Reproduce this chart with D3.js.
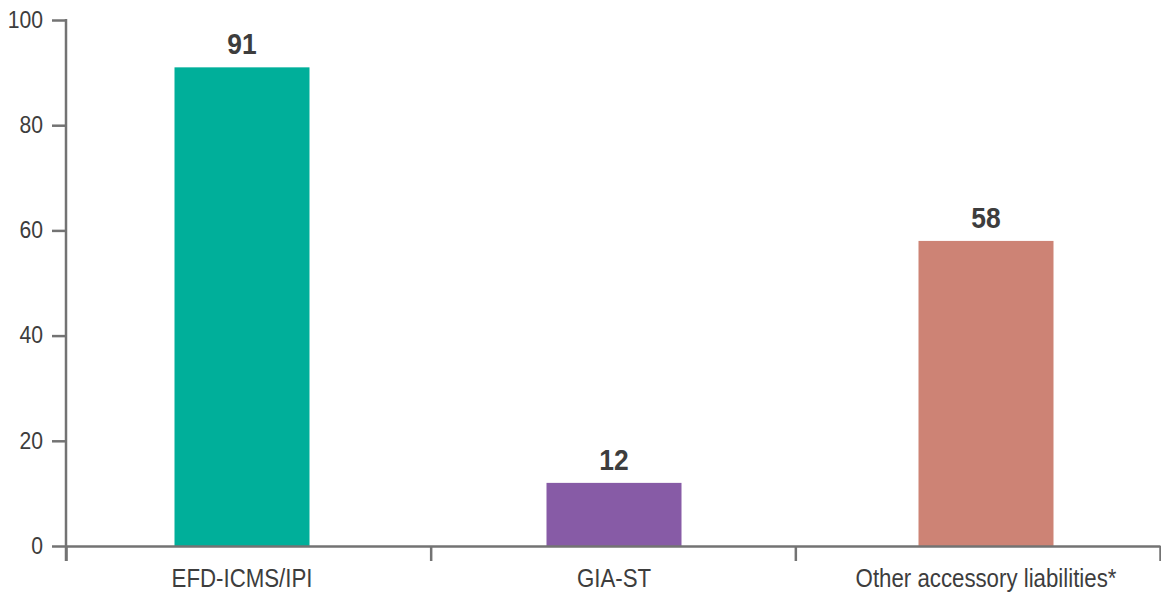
<!DOCTYPE html>
<html>
<head>
<meta charset="utf-8">
<script src="https://cdn.jsdelivr.net/npm/d3@7"></script>
<style>
  html, body { margin: 0; padding: 0; background: #fff; }
  svg { display: block; }
  text { font-family: "Liberation Sans", Arial, sans-serif; }
</style>
</head>
<body>
<script>
// Chart data
const categories = ["EFD-ICMS/IPI", "GIA-ST", "Other accessory liabilities*"];
const values = [91, 12, 58];
const barColors = ["#00AF9A", "#875BA6", "#CD8375"];
const yTicks = [0, 20, 40, 60, 80, 100];

const width = 1161, height = 592;
const margin = { top: 20, right: 1, bottom: 46, left: 66 };
const innerW = width - margin.left - margin.right;
const innerH = height - margin.top - margin.bottom;

// Horizontal squeeze giving the condensed look of the labels
const squeeze = 0.88;

const svg = d3.select("body").append("svg")
  .attr("width", width)
  .attr("height", height);

const g = svg.append("g").attr("transform", `translate(${margin.left},${margin.top})`);

const y = d3.scaleLinear().domain([0, 100]).range([innerH, 0]);

// Band boundaries carry the x-axis tick marks
const xEdge = d3.scalePoint().domain(d3.range(categories.length + 1)).range([0, innerW]);
// Bar and label centres
const xCenter = d3.scalePoint().domain(categories).range([176, 920]).padding(0);
const barW = 135;

const axisColor = "#737373";
const textColor = "#3d3d3d";

// Bars
g.selectAll("rect.bar")
  .data(categories)
  .join("rect")
  .attr("class", "bar")
  .attr("x", d => xCenter(d) - barW / 2)
  .attr("width", barW)
  .attr("y", (d, i) => y(values[i]))
  .attr("height", (d, i) => y(0) - y(values[i]))
  .attr("fill", (d, i) => barColors[i]);

// Value labels
g.selectAll("text.val")
  .data(categories)
  .join("text")
  .attr("class", "val")
  .attr("transform", (d, i) => `translate(${xCenter(d)},${y(values[i]) - 13}) scale(${squeeze},1)`)
  .attr("text-anchor", "middle")
  .attr("font-weight", "bold")
  .attr("font-size", 30)
  .attr("fill", textColor)
  .text((d, i) => values[i]);

// Y axis
const yAxis = g.append("g")
  .call(d3.axisLeft(y).tickValues(yTicks).tickSize(14).tickSizeOuter(0).tickPadding(9));
yAxis.select(".domain").remove();
yAxis.selectAll(".tick line").attr("stroke", axisColor).attr("stroke-width", 2.5);
yAxis.selectAll(".tick text")
  .attr("x", null)
  .attr("transform", `translate(-23,0) scale(0.92,1)`)
  .attr("font-size", 23)
  .attr("fill", textColor);

g.append("line")
  .attr("x1", 0).attr("x2", 0)
  .attr("y1", y(100) - 1).attr("y2", y(0) + 15)
  .attr("stroke", axisColor).attr("stroke-width", 2.5);

// X axis
const xAxis = g.append("g")
  .attr("transform", `translate(0,${innerH})`)
  .call(d3.axisBottom(xEdge).tickSize(15).tickSizeOuter(0).tickFormat(""));
xAxis.select(".domain").attr("stroke", axisColor).attr("stroke-width", 2.5);
xAxis.selectAll(".tick line").attr("stroke", axisColor).attr("stroke-width", 2.5);

// Category labels
g.selectAll("text.cat")
  .data(categories)
  .join("text")
  .attr("class", "cat")
  .attr("transform", d => `translate(${xCenter(d)},${innerH + 41}) scale(0.89,1)`)
  .attr("text-anchor", "middle")
  .attr("font-size", 25)
  .attr("fill", textColor)
  .text(d => d);
</script>
</body>
</html>
